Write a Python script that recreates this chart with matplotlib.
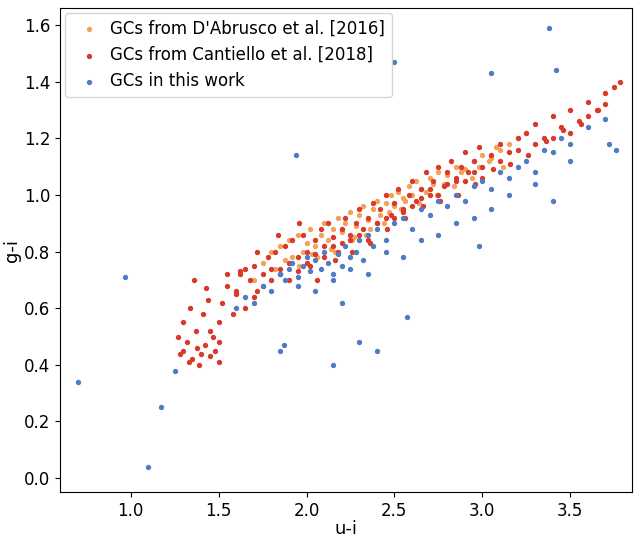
import matplotlib.pyplot as plt
import numpy as np

# Hand-read representative points (u-i, g-i)
dabrusco_ui = [1.75,1.8,1.85,1.9,1.92,1.95,1.98,2.0,2.02,2.05,2.08,2.1,2.12,2.15,2.18,2.2,2.22,2.25,2.28,2.3,2.32,2.35,2.38,2.4,2.42,2.45,2.48,2.5,2.52,2.55,2.58,2.6,2.62,2.65,2.7,2.72,2.75,2.8,2.85,2.9,2.95,3.0,3.05,3.1,3.15,3.2,1.7,1.88,2.03,2.14,2.27,2.36,2.47,2.56,2.68,2.78,2.88,2.98,3.08,1.82,1.96,2.06,2.16,2.26,2.34,2.44,2.54,2.64,2.74,2.84,2.94,3.04,3.12,3.25]
dabrusco_gi = [0.76,0.8,0.82,0.84,0.78,0.86,0.8,0.83,0.88,0.82,0.86,0.9,0.84,0.88,0.92,0.87,0.9,0.94,0.89,0.93,0.96,0.91,0.95,0.98,0.93,0.97,1.0,0.96,1.01,0.99,1.03,1.0,1.05,1.02,1.06,1.04,1.08,1.07,1.1,1.09,1.12,1.14,1.13,1.16,1.18,1.2,0.7,0.77,0.79,0.81,0.85,0.88,0.94,0.98,1.01,1.04,1.08,1.1,1.17,0.74,0.75,0.78,0.8,0.84,0.86,0.9,0.95,0.97,1.0,1.03,1.06,1.12,1.1,1.22]

cantiello_ui = [1.27,1.3,1.32,1.35,1.38,1.4,1.42,1.45,1.48,1.5,1.3,1.34,1.37,1.41,1.44,1.47,1.33,1.39,1.43,1.36,1.5,1.52,1.55,1.58,1.6,1.62,1.65,1.68,1.7,1.72,1.75,1.78,1.8,1.82,1.85,1.88,1.9,1.92,1.95,1.98,2.0,2.02,2.05,2.08,2.1,2.12,2.15,2.18,2.2,2.22,2.25,2.28,2.3,2.32,2.35,2.38,2.4,2.42,2.45,2.48,2.5,2.52,2.55,2.58,2.6,2.62,2.65,2.68,2.7,2.72,2.75,2.78,2.8,2.82,2.85,2.88,2.9,2.92,2.95,2.98,3.0,3.05,3.1,3.15,3.2,3.25,3.3,3.35,3.4,3.45,3.5,3.55,3.6,3.65,3.7,3.75,3.78,1.55,1.6,1.65,1.7,1.75,1.8,1.85,1.9,1.95,2.0,2.05,2.1,2.15,2.2,2.25,2.3,2.35,2.4,2.45,2.5,2.55,2.6,2.65,2.7,2.75,2.8,2.85,2.9,2.95,3.0,3.1,3.2,3.3,3.4,3.5,3.6,3.7,1.45,1.5,1.28,1.62,1.72,1.84,1.96,2.06,2.16,2.26,2.36,2.46,2.56,2.66,2.76,2.86,2.96,3.06,3.16,3.26,3.36,3.46,3.56,3.66]
cantiello_gi = [0.5,0.45,0.48,0.42,0.46,0.44,0.47,0.43,0.45,0.48,0.55,0.6,0.52,0.58,0.63,0.5,0.41,0.4,0.67,0.7,0.55,0.62,0.68,0.58,0.65,0.72,0.6,0.7,0.75,0.66,0.72,0.78,0.7,0.8,0.74,0.82,0.76,0.84,0.78,0.86,0.8,0.75,0.84,0.88,0.82,0.9,0.85,0.8,0.88,0.92,0.86,0.9,0.95,0.88,0.92,0.97,0.9,0.95,1.0,0.93,0.97,1.02,0.95,1.0,1.05,0.98,1.02,1.08,1.0,1.05,1.1,1.03,1.08,1.12,1.05,1.1,1.15,1.08,1.12,1.17,1.1,1.14,1.18,1.15,1.2,1.22,1.25,1.2,1.28,1.24,1.3,1.26,1.33,1.3,1.36,1.38,1.4,0.72,0.66,0.74,0.64,0.68,0.74,0.72,0.7,0.73,0.76,0.79,0.78,0.82,0.83,0.84,0.86,0.84,0.9,0.92,0.92,0.94,0.96,0.99,1.02,1.0,1.04,1.06,1.05,1.08,1.06,1.12,1.16,1.18,1.2,1.22,1.28,1.32,0.52,0.41,0.44,0.73,0.8,0.86,0.9,0.7,0.77,0.8,0.83,0.88,0.92,0.96,0.98,1.0,1.04,1.09,1.11,1.14,1.19,1.23,1.25,1.3]

thiswork_ui = [0.7,0.97,1.1,1.17,1.25,1.94,2.5,3.38,3.42,3.76,1.6,1.65,1.7,1.75,1.8,1.85,1.88,1.9,1.92,1.95,1.98,2.0,2.02,2.05,2.08,2.1,2.12,2.15,2.18,2.2,2.22,2.25,2.28,2.3,2.32,2.35,2.38,2.4,2.45,2.5,2.55,2.6,2.65,2.7,2.75,2.8,2.85,2.9,2.95,3.0,3.05,3.1,3.15,3.2,3.25,3.3,3.35,3.4,3.45,3.5,3.6,3.7,1.85,1.95,2.05,2.15,2.25,2.35,2.45,2.55,2.65,2.75,2.85,2.95,3.05,3.15,3.3,3.5,2.2,2.3,2.4,2.57,2.98,1.87,2.15,3.4,3.72,3.05]
thiswork_gi = [0.34,0.71,0.04,0.25,0.38,1.14,1.47,1.59,1.44,1.16,0.6,0.64,0.62,0.68,0.66,0.72,0.7,0.74,0.76,0.71,0.75,0.78,0.73,0.77,0.74,0.8,0.76,0.72,0.79,0.75,0.82,0.78,0.8,0.84,0.77,0.86,0.82,0.88,0.84,0.9,0.92,0.88,0.95,0.93,0.98,0.96,1.0,0.98,1.03,1.05,1.02,1.08,1.06,1.1,1.12,1.08,1.16,1.15,1.2,1.18,1.24,1.27,0.45,0.68,0.66,0.7,0.74,0.72,0.8,0.78,0.84,0.86,0.9,0.92,0.95,1.0,1.04,1.12,0.62,0.48,0.45,0.57,0.82,0.47,0.4,0.98,1.18,1.43]

fig = plt.figure(figsize=(6.35, 5.38), dpi=100)
ax = fig.add_axes([0.095, 0.085, 0.9, 0.9])
ax.scatter(dabrusco_ui, dabrusco_gi, s=8, color='#f4a259', label="GCs from D'Abrusco et al. [2016]")
ax.scatter(cantiello_ui, cantiello_gi, s=8, color='#d93a2b', label="GCs from Cantiello et al. [2018]")
ax.scatter(thiswork_ui, thiswork_gi, s=8, color='#4f7cc4', label="GCs in this work")
ax.set_xlim(0.6, 3.85)
ax.set_ylim(-0.05, 1.66)
ax.set_xticks([1.0,1.5,2.0,2.5,3.0,3.5])
ax.set_yticks(np.arange(0, 1.61, 0.2))
ax.tick_params(labelsize=12)
ax.set_xlabel('u-i', fontsize=13, labelpad=0)
ax.set_ylabel('g-i', fontsize=13, labelpad=2)
ax.legend(loc='upper left', fontsize=12, handletextpad=0.3, borderaxespad=0.3)
fig.savefig('out.png')
